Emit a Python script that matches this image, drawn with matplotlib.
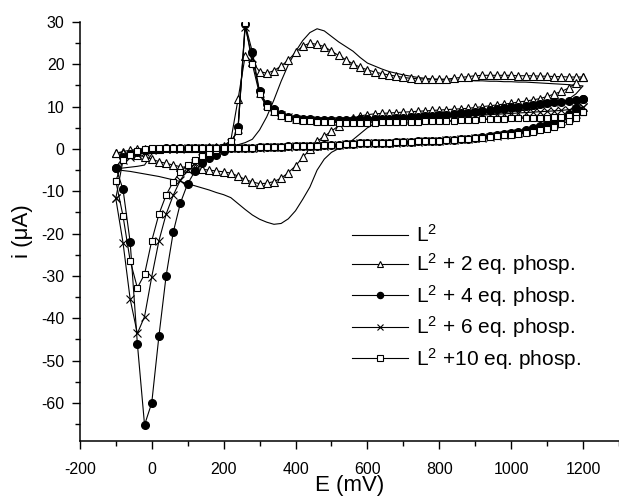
# cyclic voltammograms of L2 with increasing phosphate

import matplotlib
matplotlib.use("Agg")
import matplotlib.pyplot as plt
from matplotlib.ticker import MultipleLocator

plt.rcParams["font.family"] = ["Liberation Sans", "DejaVu Sans"]
plt.rcParams["axes.unicode_minus"] = False

# potential grid (mV), forward scan; the return scan runs back over it
E = [-100, -80, -60, -40, -20, 0, 20, 40, 60, 80, 100, 120, 140, 160, 180,
     200, 220, 240, 260, 280, 300, 320, 340, 360, 380, 400, 420, 440, 460,
     480, 500, 520, 540, 560, 580, 600, 620, 640, 660, 680, 700, 720, 740,
     760, 780, 800, 820, 840, 860, 880, 900, 920, 940, 960, 980, 1000, 1020,
     1040, 1060, 1080, 1100, 1120, 1140, 1160, 1180, 1200]

# L2 alone
l2_fwd = [-4.7, -4.5, -4.3, -4.1, -3.8, -1.2, -0.4, -0.2, -0.1, 0.0, 0.0, 0.1,
          0.1, 0.2, 0.3, 0.4, 0.6, 1.0, 1.5, 2.3, 4.5, 7.6, 11.6, 16.0, 19.9,
          23.0, 25.6, 27.5, 28.4, 27.9, 26.6, 25.3, 24.2, 23.1, 21.6, 20.3,
          19.6, 18.9, 18.3, 17.9, 17.5, 17.2, 16.9, 16.7, 16.5, 16.4, 16.3,
          16.3, 16.2, 16.2, 16.1, 16.1, 16.0, 16.0, 15.9, 15.9, 15.8, 15.8,
          15.7, 15.6, 15.5, 15.4, 15.3, 15.2, 15.0, 14.9]
l2_rev = [14.9, 13.0, 11.8, 11.0, 10.4, 10.0, 9.7, 9.4, 9.2, 9.0, 8.8, 8.6,
          8.5, 8.3, 8.2, 8.0, 7.9, 7.8, 7.7, 7.6, 7.5, 7.4, 7.3, 7.2, 7.1, 7.0,
          6.8, 6.6, 6.3, 5.9, 5.0, 3.6, 2.2, 1.0, 0.1, -0.8, -2.4, -5.0, -9.0,
          -11.9, -14.6, -16.5, -17.6, -17.8, -17.3, -16.6, -15.6, -14.3, -12.9,
          -11.5, -10.8, -10.3, -9.7, -9.2, -8.7, -8.2, -7.7, -7.3, -6.9, -6.5,
          -6.2, -5.9, -5.6, -5.3, -5.1, -4.8]

# + 2 eq. phosphate
p2_fwd = [-1.0, -0.6, -0.3, -0.1, 0.0, 0.1, 0.1, 0.2, 0.2, 0.2, 0.3, 0.3, 0.3,
          0.4, 0.5, 0.8, 2.0, 11.7, 22.0, 20.6, 18.3, 17.9, 18.5, 19.6, 21.0,
          22.8, 24.3, 25.0, 24.7, 24.2, 23.1, 22.1, 21.1, 20.1, 19.3, 18.7,
          18.2, 17.8, 17.5, 17.2, 16.9, 16.7, 16.6, 16.5, 16.5, 16.5, 16.5,
          16.7, 16.9, 17.1, 17.3, 17.4, 17.4, 17.4, 17.4, 17.4, 17.3, 17.3,
          17.3, 17.2, 17.2, 17.1, 17.1, 17.0, 17.0, 17.0]
p2_rev = [17.0, 15.6, 14.4, 13.6, 13.0, 12.4, 11.9, 11.6, 11.3, 11.1, 10.8,
          10.6, 10.4, 10.2, 10.0, 9.8, 9.6, 9.5, 9.4, 9.3, 9.2, 9.1, 9.0, 8.9,
          8.8, 8.7, 8.6, 8.5, 8.4, 8.3, 8.1, 7.8, 7.3, 6.6, 5.5, 4.2, 3.0, 1.8,
          -0.1, -2.0, -4.0, -5.6, -6.9, -7.7, -8.1, -8.2, -7.8, -7.2, -6.4,
          -5.7, -5.4, -5.2, -5.0, -4.8, -4.6, -4.4, -4.2, -3.8, -3.4, -3.0,
          -2.4, -1.8, -1.4, -1.2, -0.9, -1.0]

# + 4 eq. phosphate
p4_fwd = [-4.4, -9.5, -22.0, -46.0, -65.2, -60.0, -44.2, -30.0, -19.6, -12.7,
          -8.2, -5.3, -3.4, -2.2, -1.4, -0.5, 0.8, 5.1, 29.5, 22.9, 13.6, 10.6,
          9.4, 8.2, 7.6, 7.3, 7.1, 7.0, 6.9, 6.9, 6.9, 6.9, 6.9, 6.9, 7.0,
          7.0, 7.0, 7.1, 7.1, 7.2, 7.4, 7.5, 7.6, 7.7, 7.9, 8.0, 8.1, 8.3,
          8.4, 8.6, 8.8, 9.0, 9.2, 9.4, 9.6, 9.8, 10.0, 10.2, 10.4, 10.6,
          10.8, 11.0, 11.2, 11.4, 11.6, 11.8]
p4_rev = [11.8, 9.6, 8.3, 7.4, 6.7, 6.0, 5.4, 4.9, 4.5, 4.1, 3.8, 3.5, 3.2,
          3.0, 2.8, 2.6, 2.4, 2.3, 2.2, 2.1, 2.0, 1.9, 1.8, 1.8, 1.7, 1.6, 1.6,
          1.5, 1.5, 1.4, 1.4, 1.3, 1.2, 1.1, 1.0, 0.9, 0.9, 0.8, 0.7, 0.7, 0.6,
          0.6, 0.5, 0.5, 0.4, 0.4, 0.3, 0.3, 0.3, 0.3, 0.2, 0.2, 0.2, 0.2, 0.2,
          0.2, 0.2, 0.2, 0.2, 0.1, 0.0, -0.2, -0.6, -1.2, -2.0, -4.4]

# + 6 eq. phosphate
p6_fwd = [-11.7, -22.1, -35.5, -43.6, -39.6, -30.2, -21.7, -15.4, -10.9, -7.3,
          -5.0, -3.4, -2.2, -1.3, -0.6, 0.3, 1.4, 4.8, 28.8, 21.5, 13.3, 10.3,
          8.9, 8.0, 7.5, 7.1, 6.9, 6.8, 6.7, 6.6, 6.6, 6.6, 6.6, 6.6, 6.6, 6.7,
          6.7, 6.8, 6.8, 6.9, 6.9, 7.0, 7.1, 7.2, 7.3, 7.4, 7.5, 7.6, 7.7, 7.8,
          7.9, 8.0, 8.1, 8.2, 8.3, 8.4, 8.5, 8.6, 8.7, 8.8, 8.9, 9.0, 9.1, 9.3,
          9.5, 9.9]
p6_rev = [9.9, 8.2, 7.3, 6.6, 6.0, 5.4, 4.9, 4.5, 4.1, 3.8, 3.5, 3.3, 3.1, 2.9,
          2.7, 2.5, 2.4, 2.3, 2.2, 2.1, 2.0, 1.9, 1.8, 1.7, 1.7, 1.6, 1.5, 1.5,
          1.4, 1.4, 1.3, 1.3, 1.2, 1.1, 1.0, 0.9, 0.8, 0.8, 0.7, 0.6, 0.6, 0.5,
          0.5, 0.4, 0.4, 0.3, 0.3, 0.3, 0.3, 0.2, 0.2, 0.2, 0.2, 0.2, 0.2, 0.2,
          0.1, 0.1, 0.1, 0.0, -0.2, -0.6, -1.2, -1.9, -2.7, -11.7]

# + 10 eq. phosphate
p10_fwd = [-7.6, -15.8, -26.4, -32.8, -29.6, -21.7, -15.4, -10.9, -7.7, -5.4,
           -3.8, -2.6, -1.7, -0.9, -0.3, 0.5, 1.8, 4.3, 29.7, 20.0, 12.9, 10.0,
           8.7, 7.8, 7.3, 6.9, 6.7, 6.5, 6.4, 6.3, 6.3, 6.2, 6.2, 6.2, 6.2,
           6.2, 6.2, 6.3, 6.3, 6.3, 6.3, 6.4, 6.4, 6.5, 6.5, 6.6, 6.6, 6.7,
           6.8, 6.9, 6.9, 7.0, 7.0, 7.1, 7.1, 7.2, 7.2, 7.3, 7.3, 7.4, 7.4,
           7.5, 7.6, 7.8, 8.1, 8.7]
p10_rev = [8.7, 7.4, 6.6, 5.9, 5.3, 4.8, 4.4, 4.1, 3.8, 3.6, 3.4, 3.2, 3.0,
           2.8, 2.7, 2.5, 2.4, 2.3, 2.2, 2.1, 2.0, 1.9, 1.8, 1.8, 1.7, 1.6, 1.6,
           1.5, 1.5, 1.4, 1.4, 1.3, 1.2, 1.1, 1.0, 0.9, 0.9, 0.8, 0.7, 0.7, 0.6,
           0.6, 0.5, 0.5, 0.4, 0.4, 0.3, 0.3, 0.3, 0.3, 0.2, 0.2, 0.2, 0.2, 0.2,
           0.2, 0.2, 0.2, 0.2, 0.2, 0.2, 0.0, -0.5, -1.4, -2.6, -7.6]

labels = [r"$\mathregular{L^2}$",
          r"$\mathregular{L^2}$ + 2 eq. phosp.",
          r"$\mathregular{L^2}$ + 4 eq. phosp.",
          r"$\mathregular{L^2}$ + 6 eq. phosp.",
          r"$\mathregular{L^2}$ +10 eq. phosp."]

E_cycle = E + E[::-1]

fig = plt.figure(figsize=(6.19, 5.0), dpi=100)
ax = fig.add_axes([0.129, 0.118, 0.871, 0.838])

lw = 0.8
ax.plot(E_cycle, l2_fwd + l2_rev, color="black", lw=lw, label=labels[0])
ax.plot(E_cycle, p2_fwd + p2_rev, color="black", lw=lw, marker="^", ms=6,
        mfc="white", mec="black", mew=0.8, label=labels[1])
ax.plot(E_cycle, p4_fwd + p4_rev, color="black", lw=lw, marker="o", ms=5.5,
        mfc="black", mec="black", label=labels[2])
ax.plot(E_cycle, p6_fwd + p6_rev, color="black", lw=lw, marker="x", ms=6,
        mew=0.8, label=labels[3])
ax.plot(E_cycle, p10_fwd + p10_rev, color="black", lw=lw, marker="s", ms=5,
        mfc="white", mec="black", mew=0.8, label=labels[4])

ax.set_xlim(-200, 1300)
ax.set_ylim(-69, 30)
ax.xaxis.set_major_locator(MultipleLocator(200))
ax.xaxis.set_minor_locator(MultipleLocator(100))
ax.yaxis.set_major_locator(MultipleLocator(10))
ax.yaxis.set_minor_locator(MultipleLocator(5))

ax.spines["top"].set_visible(False)
ax.spines["right"].set_visible(False)
ax.spines["left"].set_linewidth(1.1)
ax.spines["bottom"].set_linewidth(1.1)
ax.tick_params(which="major", direction="out", length=6, width=1.0,
               labelsize=11.5, pad=5)
ax.tick_params(axis="x", which="major", pad=9)
ax.tick_params(which="minor", direction="out", length=3.5, width=1.0)

ax.set_xlabel("E (mV)", fontsize=16, labelpad=-1)
ax.set_ylabel("i (\u03bcA)", fontsize=16, labelpad=6)

ax.legend(loc="upper left", bbox_to_anchor=(0.505, 0.518), frameon=False,
          fontsize=15, handlelength=2.7, handletextpad=0.35,
          labelspacing=0.27, borderpad=0, borderaxespad=0, markerscale=0.8)

fig.savefig("out.png", dpi=100)
